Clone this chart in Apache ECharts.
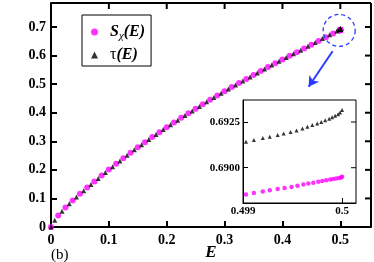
<!DOCTYPE html>
<html>
<head>
<meta charset="utf-8">
<script src="https://cdn.jsdelivr.net/npm/echarts@6/dist/echarts.min.js"></script>
<style>html,body{margin:0;padding:0;background:#fff;overflow:hidden;}#c{width:374px;height:262px;}</style>
</head>
<body>
<div id="c"></div>
<script>
// Main panel: S_chi(E) (magenta dots)
const eS = [0,0.0125,0.025,0.0375,0.05,0.0625,0.075,0.0875,0.1,0.1125,0.125,0.1375,0.15,0.1625,0.175,0.1875,0.2,0.2125,0.225,0.2375,0.25,0.2625,0.275,0.2875,0.3,0.3125,0.325,0.3375,0.35,0.3625,0.375,0.3875,0.4,0.4125,0.425,0.4375,0.45,0.4625,0.475,0.4875,0.5];
const sVals = [0,0.040,0.068,0.093,0.116,0.138,0.159,0.180,0.201,0.221,0.241,0.260,0.279,0.297,0.315,0.332,0.349,0.366,0.382,0.398,0.414,0.430,0.445,0.460,0.475,0.490,0.504,0.518,0.532,0.546,0.560,0.573,0.586,0.599,0.612,0.625,0.638,0.651,0.664,0.677,0.6895];
// Main panel: tau(E) (black triangles)
const eTau = [0,0.0065,0.019,0.0315,0.044,0.0565,0.069,0.0815,0.094,0.1065,0.119,0.1315,0.144,0.1565,0.169,0.1815,0.194,0.2065,0.219,0.2315,0.244,0.2565,0.269,0.2815,0.294,0.3065,0.319,0.3315,0.344,0.3565,0.369,0.3815,0.394,0.4065,0.419,0.4315,0.444,0.4565,0.469,0.4815,0.494];
const tauVals = [0,0.024,0.055,0.081,0.105,0.127,0.149,0.170,0.191,0.211,0.231,0.251,0.270,0.288,0.306,0.324,0.341,0.358,0.374,0.390,0.406,0.422,0.438,0.453,0.468,0.483,0.497,0.511,0.525,0.539,0.553,0.567,0.580,0.593,0.606,0.619,0.633,0.646,0.660,0.673,0.686];
// Inset (zoom near E = 0.5)
const insetETau = [0.49903,0.49911,0.49920,0.49927,0.49935,0.49941,0.49948,0.49954,0.49960,0.49965,0.49970,0.49975,0.49979,0.49983,0.49987,0.49990,0.49993,0.49996,0.49998,0.50000];
const insetTau = [0.69142,0.69152,0.69162,0.69170,0.69179,0.69187,0.69195,0.69204,0.69215,0.69224,0.69233,0.69242,0.69250,0.69259,0.69268,0.69276,0.69284,0.69292,0.69302,0.69316];
const insetES = [0.49903,0.49911,0.49920,0.49927,0.49935,0.49942,0.49949,0.49955,0.49961,0.49966,0.49971,0.49976,0.49980,0.49984,0.49988,0.49991,0.49994,0.49997,0.49999,0.50000];
const insetS = [0.68854,0.68862,0.68870,0.68877,0.68883,0.68889,0.68895,0.68901,0.68908,0.68913,0.68918,0.68923,0.68927,0.68931,0.68935,0.68938,0.68941,0.68944,0.68947,0.68951];
// Tick values / labels
const mainXTicks = [0.1, 0.2, 0.3, 0.4, 0.5];
const mainYTicks = [0.1, 0.2, 0.3, 0.4, 0.5, 0.6, 0.7];
const insetXTicks = [0.499, 0.5];
const insetYTicks = [0.6900, 0.6925];

const zip = (a, b) => a.map((v, i) => [v, b[i]]);
const FONT = 'Liberation Serif';
const MAG = '#ff00ff';
const BLUE = '#2a3cff';
const XMAX = 0.553, YMAX = 0.784;

const mainS = zip(eS, sVals).concat(zip(insetES, insetS));
const mainTau = zip(eTau, tauVals).concat(zip(insetETau, insetTau));

const axLine = {show: true, onZero: false, lineStyle: {color: '#000', width: 2}};
const axTick = {show: true, inside: true, length: 6, lineStyle: {color: '#000', width: 2}};
const lblMain = {fontFamily: FONT, fontWeight: 'bold', fontSize: 14, color: '#000'};
const inLine = {show: true, onZero: false, lineStyle: {color: '#000', width: 1}};

const chart = echarts.init(document.getElementById('c'), null, {renderer: 'canvas'});
chart.setOption({
  animation: false,
  backgroundColor: '#fff',
  title: {text: '(b)', left: 46, top: 243, textStyle: {fontFamily: FONT, fontWeight: 'normal', fontSize: 15, color: '#000'}},
  legend: {
    orient: 'vertical', left: 82, top: 15,
    borderColor: '#000', borderWidth: 1, padding: [7, 6, 3, 9],
    itemWidth: 7, itemHeight: 7, itemGap: 5,
    data: [
      {name: 'S', icon: 'circle', itemStyle: {color: MAG}},
      {name: 'tau', icon: 'triangle', itemStyle: {color: '#000'}}
    ],
    formatter: function (n) {
      return n === 'S' ? '{i|S}{sub|χ}{i|(E)}' : '{g|τ}{i|(E)}';
    },
    textStyle: {
      padding: [0, 0, 0, 7],
      rich: {
        i: {fontFamily: FONT, fontStyle: 'italic', fontWeight: 'bold', fontSize: 16, color: '#000', lineHeight: 18},
        g: {fontFamily: FONT, fontWeight: 'normal', fontSize: 16, color: '#000', lineHeight: 18},
        sub: {fontFamily: FONT, fontStyle: 'italic', fontSize: 11, color: '#000', lineHeight: 18, padding: [9, 0, 0, 0]}
      }
    }
  },
  grid: [
    {left: 51, top: 3, width: 320, height: 224, show: false, containLabel: false, outerBoundsMode: 'none'},
    {left: 243, top: 100, width: 113, height: 103, show: true, backgroundColor: '#fff', borderColor: '#000', borderWidth: 1, z: 5,
      containLabel: false, outerBoundsMode: 'none'}
  ],
  xAxis: [
    {gridIndex: 0, type: 'value', min: 0, max: XMAX, interval: 0.1, position: 'bottom',
      axisLine: axLine, axisTick: axTick, splitLine: {show: false},
      axisLabel: Object.assign({margin: 6, showMaxLabel: false}, lblMain),
      name: 'E', nameLocation: 'middle', nameGap: 17, nameMoveOverlap: false,
      nameTextStyle: {fontFamily: FONT, fontStyle: 'italic', fontWeight: 'bold', fontSize: 17, color: '#000'}},
    {gridIndex: 1, type: 'value', min: 0.499, max: 0.500141, position: 'bottom', z: 6,
      axisLine: inLine,
      axisTick: {show: true, inside: true, length: 5, customValues: insetXTicks, lineStyle: {color: '#000', width: 1}},
      axisLabel: {customValues: insetXTicks, margin: 3, fontFamily: FONT, fontWeight: 'bold', fontSize: 11, color: '#000',
        formatter: v => String(parseFloat(v.toFixed(3)))},
      splitLine: {show: false}}
  ],
  yAxis: [
    {gridIndex: 0, type: 'value', min: 0, max: YMAX, interval: 0.1, position: 'left',
      axisLine: axLine, axisTick: axTick, splitLine: {show: false},
      axisLabel: Object.assign({margin: 5, showMaxLabel: false}, lblMain)},
    {gridIndex: 1, type: 'value', min: 0.688069, max: 0.693704, position: 'left', z: 6,
      axisLine: inLine,
      axisTick: {show: true, inside: true, length: 5, customValues: insetYTicks, lineStyle: {color: '#000', width: 1}},
      axisLabel: {customValues: insetYTicks, margin: 3, fontFamily: FONT, fontWeight: 'bold', fontSize: 11, color: '#000',
        formatter: v => v.toFixed(4)},
      splitLine: {show: false}}
  ],
  series: [
    {name: 'S', type: 'scatter', xAxisIndex: 0, yAxisIndex: 0, data: mainS, symbol: 'circle', symbolSize: 6,
      itemStyle: {color: MAG}, z: 2,
      markLine: {silent: true, symbol: ['none', 'arrow'], symbolSize: [9, 10], label: {show: false},
        lineStyle: {color: BLUE, width: 2, type: 'solid'},
        data: [[{coord: [0.4866, 0.615]}, {coord: [0.4452, 0.491]}]]}},
    {name: 'tau', type: 'scatter', xAxisIndex: 0, yAxisIndex: 0, data: mainTau, symbol: 'triangle', symbolSize: 5,
      itemStyle: {color: '#000'}, z: 3,
      markPoint: {silent: true, symbol: 'circle', symbolSize: 32, label: {show: false},
        itemStyle: {color: 'rgba(0,0,0,0)', borderColor: BLUE, borderWidth: 1.3, borderType: [4, 3]},
        data: [{coord: [0.498, 0.688]}]}},
    {name: 'S', type: 'scatter', xAxisIndex: 1, yAxisIndex: 1, data: zip(insetES, insetS), symbol: 'circle', symbolSize: 4.5,
      itemStyle: {color: MAG}, z: 7},
    {name: 'tau', type: 'scatter', xAxisIndex: 1, yAxisIndex: 1, data: zip(insetETau, insetTau), symbol: 'triangle', symbolSize: 4,
      itemStyle: {color: '#000'}, z: 7}
  ]
});

// Mirror frame (top and right edges with inward ticks) from the axis scales
function px(x, y, gi) { return chart.convertToPixel({xAxisIndex: gi, yAxisIndex: gi}, [x, y]); }
const g = [];
const tl = px(0, YMAX, 0), br = px(XMAX, 0, 0);
const stroke = {stroke: '#000', lineWidth: 2};
g.push({type: 'line', shape: {x1: tl[0], y1: tl[1], x2: br[0], y2: tl[1]}, style: stroke, z: 10, silent: true});
g.push({type: 'line', shape: {x1: br[0], y1: tl[1], x2: br[0], y2: br[1]}, style: stroke, z: 10, silent: true});
mainXTicks.forEach(v => { const p = px(v, YMAX, 0);
  g.push({type: 'line', shape: {x1: p[0], y1: p[1], x2: p[0], y2: p[1] + 6}, style: stroke, z: 10, silent: true}); });
mainYTicks.forEach(v => { const p = px(XMAX, v, 0);
  g.push({type: 'line', shape: {x1: p[0], y1: p[1], x2: p[0] - 6, y2: p[1]}, style: stroke, z: 10, silent: true}); });
// inset right-side ticks
const istroke = {stroke: '#000', lineWidth: 1};
insetYTicks.forEach(v => { const p = px(0.500141, v, 1);
  g.push({type: 'line', shape: {x1: p[0], y1: p[1], x2: p[0] - 5, y2: p[1]}, style: istroke, z: 60, silent: true}); });
chart.setOption({graphic: {elements: g}});
</script>
</body>
</html>
